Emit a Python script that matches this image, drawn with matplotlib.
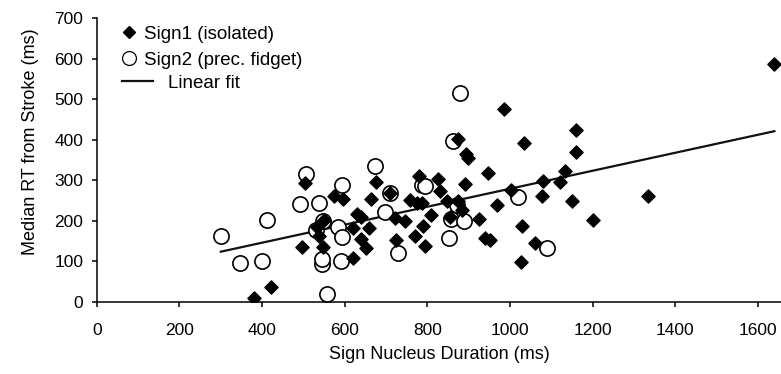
import matplotlib
matplotlib.use("Agg")
import matplotlib.pyplot as plt
from matplotlib.lines import Line2D

plt.rcParams['font.family'] = ['Liberation Sans', 'DejaVu Sans']

# Sign1 (isolated): nucleus duration (ms), median RT (ms)
sign1_x = [380, 421, 496, 505, 534, 538, 548, 550, 575, 596, 621, 621, 629, 639,
           639, 651, 659, 663, 676, 710, 722, 724, 747, 758, 770, 774, 780, 786,
           790, 794, 810, 826, 830, 847, 855, 875, 875, 883, 891, 893, 898, 926,
           940, 946, 952, 969, 985, 1002, 1026, 1030, 1034, 1060, 1077, 1081,
           1121, 1133, 1149, 1161, 1161, 1202, 1333, 1639]
sign1_y = [10, 37, 135, 294, 184, 163, 135, 202, 262, 254, 182, 108, 216, 210,
           155, 132, 183, 254, 295, 269, 206, 153, 200, 251, 163, 243, 311, 243,
           187, 139, 214, 302, 274, 250, 210, 250, 401, 227, 291, 366, 356, 204,
           158, 317, 154, 239, 475, 276, 99, 187, 393, 145, 262, 298,
           297, 323, 250, 424, 369, 202, 261, 586]

# Sign2 (preceded by fidget)
sign2_x = [300, 346, 400, 413, 492, 507, 530, 538, 544, 546, 548, 558, 583, 591,
           594, 594, 673, 697, 710, 730, 786, 794, 853, 857, 861, 871, 880, 889,
           1020, 1089]
sign2_y = [163, 96, 101, 203, 241, 315, 177, 245, 94, 105, 200, 20, 184, 102,
           288, 160, 336, 221, 269, 122, 288, 286, 157, 205, 398, 239, 514, 200,
           260, 132]

# linear fit endpoints
fit_x = [300, 1640]
fit_y = [124, 421]

fig = plt.figure(figsize=(7.81, 3.74), dpi=100)
ax = fig.add_axes([0.124, 0.1925, 0.876, 0.7594])

ax.plot(fit_x, fit_y, color='#111111', lw=1.6, zorder=1)
ax.scatter(sign2_x, sign2_y, s=120, marker='o', facecolors='white',
           edgecolors='black', linewidths=1.2, zorder=2)
ax.scatter(sign1_x, sign1_y, s=45, marker='D', color='black', zorder=3)

ax.set_xlim(0, 1656)
ax.set_ylim(0, 700)
ax.set_xticks(range(0, 1601, 200))
ax.set_yticks(range(0, 701, 100))
for s in ['top', 'right']:
    ax.spines[s].set_visible(False)
for s in ['left', 'bottom']:
    ax.spines[s].set_linewidth(1.1)
ax.tick_params(direction='out', length=3.8, width=1.1, labelsize=12.5)
ax.tick_params(axis='x', pad=11)
ax.tick_params(axis='y', pad=6)

ax.set_xlabel('Sign Nucleus Duration (ms)', fontsize=13, labelpad=6)
ax.set_ylabel('Median RT from Stroke (ms)', fontsize=13)
ax.yaxis.set_label_coords(-0.085, 0.563)

h1 = [Line2D([], [], marker='D', color='black', ls='none', markersize=6.5),
      Line2D([], [], marker='o', markerfacecolor='white', markeredgecolor='black',
             ls='none', markersize=10, markeredgewidth=0.9)]
leg1 = ax.legend(h1, ['Sign1 (isolated)', 'Sign2 (prec. fidget)'],
                 loc='upper left', bbox_to_anchor=(0.156, 0.932),
                 bbox_transform=fig.transFigure, frameon=False,
                 fontsize=13.5, handlelength=0.75, handletextpad=0.45,
                 labelspacing=0.5, borderaxespad=0, borderpad=0)
ax.add_artist(leg1)
h2 = [Line2D([], [], color='#111111', lw=1.6)]
ax.legend(h2, ['Linear fit'], loc='upper left', bbox_to_anchor=(0.156, 0.801),
          bbox_transform=fig.transFigure, frameon=False, fontsize=13.5,
          handlelength=1.65, handletextpad=0.8, borderaxespad=0, borderpad=0)

fig.savefig('out.png', dpi=100)
